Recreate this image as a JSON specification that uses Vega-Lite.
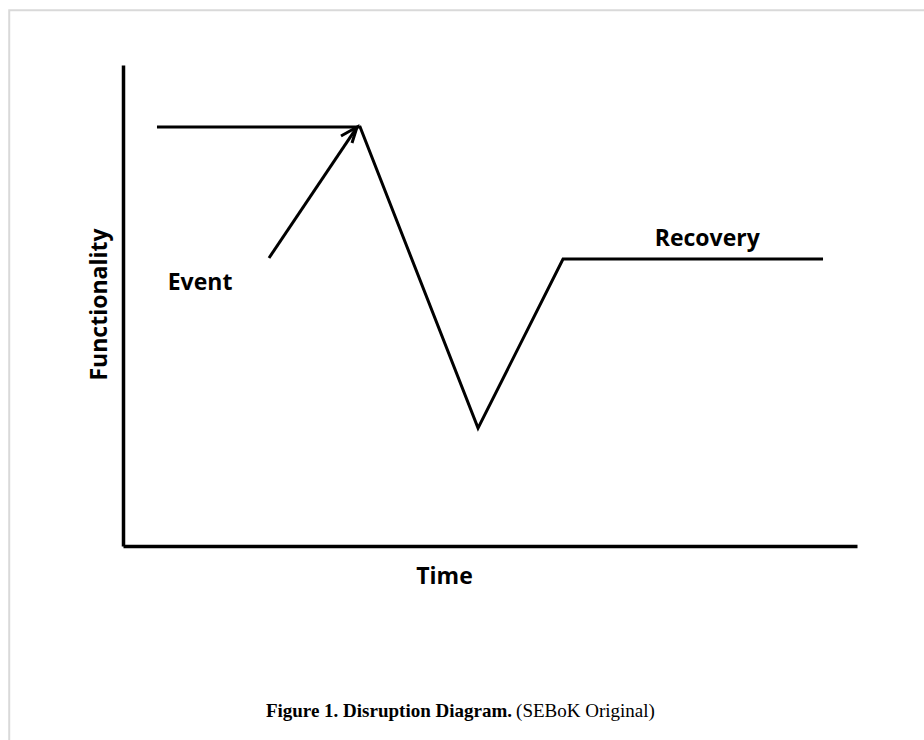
{
  "$schema": "https://vega.github.io/schema/vega-lite/v6.json",
  "width": 734,
  "height": 481,
  "autosize": "none",
  "padding": {"left": 123, "top": 65, "right": 67, "bottom": 194},
  "background": "white",
  "config": {"view": {"stroke": null}},
  "encoding": {
    "x": {"field": "x", "type": "quantitative",
      "scale": {"domain": [0, 100], "nice": false, "zero": false},
      "axis": {"domain": true, "domainColor": "black", "domainWidth": 3.5, "ticks": false, "labels": false, "grid": false,
        "title": "Time", "titleFont": "Open Sans", "titleFontWeight": "bold", "titleFontSize": 23, "titleColor": "black",
        "titleX": 321, "titleY": 30, "titleAlign": "center", "titleBaseline": "middle"}},
    "y": {"field": "y", "type": "quantitative",
      "scale": {"domain": [0, 100], "nice": false, "zero": false},
      "axis": {"domain": true, "domainColor": "black", "domainWidth": 3.5, "ticks": false, "labels": false, "grid": false,
        "title": "Functionality", "titleFont": "Open Sans", "titleFontWeight": "bold", "titleFontSize": 23, "titleColor": "black",
        "titleX": -24, "titleY": 239, "titleAlign": "center", "titleBaseline": "middle", "titleAngle": -90}}
  },
  "layer": [
    {
      "data": {"values": [{"x": -15.5, "x2": 120, "y": -50, "y2": 111.4}]},
      "mark": {"type": "rect", "fillOpacity": 0, "stroke": "#d9d9d9", "strokeWidth": 2, "clip": false},
      "encoding": {"x2": {"field": "x2"}, "y2": {"field": "y2"}}
    },
    {
      "data": {"values": [
        {"order": 1, "x": 4.63, "y": 87.1},
        {"order": 2, "x": 32.3, "y": 87.1},
        {"order": 3, "x": 48.37, "y": 24.5},
        {"order": 4, "x": 59.95, "y": 59.67},
        {"order": 5, "x": 95.37, "y": 59.67}
      ]},
      "mark": {"type": "line", "color": "black", "strokeWidth": 3},
      "encoding": {"order": {"field": "order", "type": "quantitative"}}
    },
    {
      "data": {"values": [
        {"part": "shaft", "order": 1, "x": 19.89, "y": 59.88},
        {"part": "shaft", "order": 2, "x": 31.88, "y": 87.1},
        {"part": "head", "order": 1, "x": 29.7, "y": 85.24},
        {"part": "head", "order": 2, "x": 31.88, "y": 87.1},
        {"part": "head", "order": 3, "x": 31.2, "y": 83.78}
      ]},
      "mark": {"type": "line", "color": "black", "strokeWidth": 3},
      "encoding": {"detail": {"field": "part"}, "order": {"field": "order", "type": "quantitative"}}
    },
    {
      "data": {"values": [
        {"label": "Event", "x": 10.5, "y": 54.7},
        {"label": "Recovery", "x": 79.6, "y": 63.8}
      ]},
      "mark": {"type": "text", "font": "Open Sans", "fontWeight": "bold", "fontSize": 23, "color": "black", "align": "center", "baseline": "middle"},
      "encoding": {"text": {"field": "label"}}
    },
    {
      "data": {"values": [{"label": "Figure 1. Disruption Diagram.", "x": 53.0, "y": -34.3}]},
      "mark": {"type": "text", "font": "Liberation Serif", "fontWeight": "bold", "fontSize": 19, "color": "black", "align": "right", "baseline": "middle"},
      "encoding": {"text": {"field": "label"}}
    },
    {
      "data": {"values": [{"label": "(SEBoK Original)", "x": 53.55, "y": -34.3}]},
      "mark": {"type": "text", "font": "Liberation Serif", "fontSize": 19, "color": "black", "align": "left", "baseline": "middle"},
      "encoding": {"text": {"field": "label"}}
    }
  ]
}
